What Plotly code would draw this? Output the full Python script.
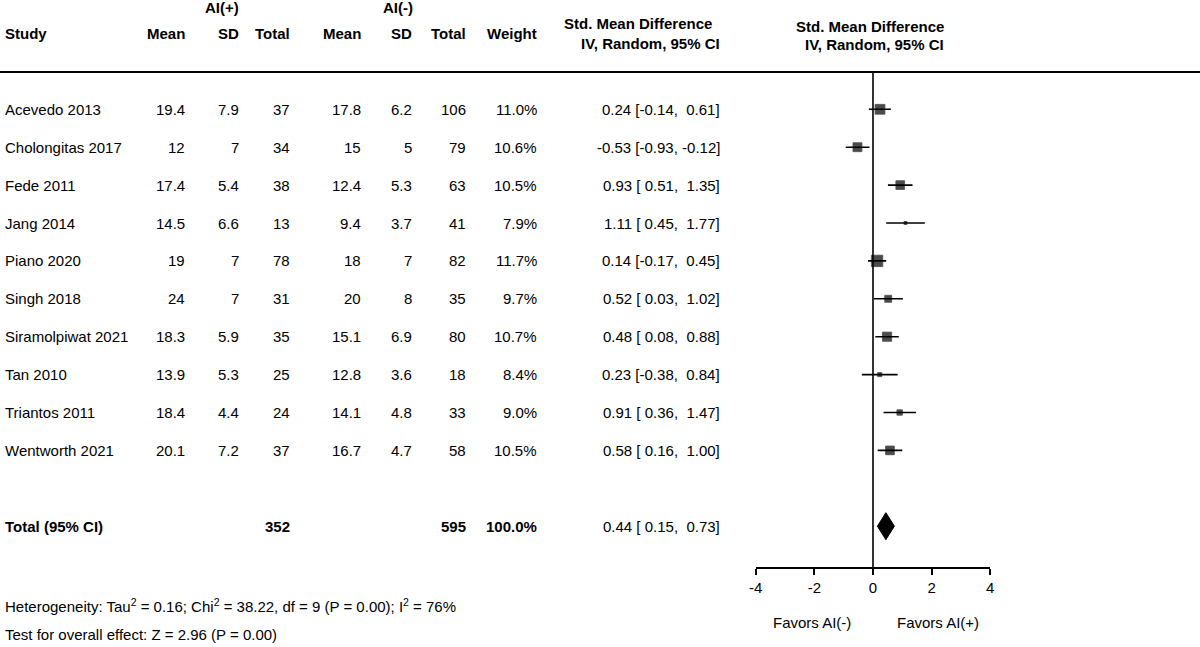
import plotly.graph_objects as go

# ---------------- data ----------------
studies = ["Acevedo 2013", "Cholongitas 2017", "Fede 2011", "Jang 2014", "Piano 2020",
           "Singh 2018", "Siramolpiwat 2021", "Tan 2010", "Triantos 2011", "Wentworth 2021"]
mean_pos = ["19.4", "12", "17.4", "14.5", "19", "24", "18.3", "13.9", "18.4", "20.1"]
sd_pos = ["7.9", "7", "5.4", "6.6", "7", "7", "5.9", "5.3", "4.4", "7.2"]
n_pos = [37, 34, 38, 13, 78, 31, 35, 25, 24, 37]
mean_neg = ["17.8", "15", "12.4", "9.4", "18", "20", "15.1", "12.8", "14.1", "16.7"]
sd_neg = ["6.2", "5", "5.3", "3.7", "7", "8", "6.9", "3.6", "4.8", "4.7"]
n_neg = [106, 79, 63, 41, 82, 35, 80, 18, 33, 58]
weights = [11.0, 10.6, 10.5, 7.9, 11.7, 9.7, 10.7, 8.4, 9.0, 10.5]
smd = [0.24, -0.53, 0.93, 1.11, 0.14, 0.52, 0.48, 0.23, 0.91, 0.58]
ci_lo = [-0.14, -0.93, 0.51, 0.45, -0.17, 0.03, 0.08, -0.38, 0.36, 0.16]
ci_hi = [0.61, -0.12, 1.35, 1.77, 0.45, 1.02, 0.88, 0.84, 1.47, 1.00]
total_pos = 352
total_neg = 595
total_weight = "100.0%"
total_smd = 0.44
total_lo = 0.15
total_hi = 0.73
x_ticks = [-4, -2, 0, 2, 4]
heterogeneity = "Heterogeneity: Tau<sup>2</sup> = 0.16; Chi<sup>2</sup> = 38.22, df = 9 (P = 0.00); I<sup>2</sup> = 76%"
overall_effect = "Test for overall effect: Z = 2.96 (P = 0.00)"

# ---------------- layout constants ----------------
W, H = 1200, 647
ROW0_PX, ROW_STEP = 109.3, 37.9
AXIS_PX = 567
X_LEFT_PX, X_RIGHT_PX = 755.7, 992.3
FONT = "Liberation Sans, Arial, sans-serif"
FS = 15
LEFT_PX = -4
total_row = len(studies) + 1


def px_to_row(py):
    return (py - ROW0_PX) / ROW_STEP


def pyp(py):  # pixel y -> paper y
    return 1 - py / H


def pxp(px):  # pixel x -> paper x
    return px / W


def fmt_ci(e, lo, hi):
    def f(v):
        s = f"{v:.2f}"
        return s if v < 0 else " " + s
    return f"{e:.2f} [{f(lo)}, {f(hi)}]".replace("[ -", "[-")


fig = go.Figure()

rows = list(range(len(studies)))
sizes = [max(3.0, 3 + (w - 7.9) * 2.2) for w in weights]

fig.add_trace(go.Scatter(
    x=smd, y=rows, mode="markers",
    marker=dict(symbol="square", color="black", size=sizes,
                line=dict(width=0.8, color="black")),
    error_x=dict(type="data", symmetric=False,
                 array=[h - e for h, e in zip(ci_hi, smd)],
                 arrayminus=[e - l for e, l in zip(smd, ci_lo)],
                 color="black", thickness=1.6, width=0),
    hoverinfo="skip", showlegend=False, cliponaxis=False,
))

dh = 13.5 / ROW_STEP
fig.add_trace(go.Scatter(
    x=[total_lo, total_smd, total_hi, total_smd, total_lo],
    y=[total_row, total_row - dh, total_row, total_row + dh, total_row],
    mode="lines", fill="toself", fillcolor="black",
    line=dict(color="black", width=1), hoverinfo="skip", showlegend=False,
))

ann = []


def add(text, px, row=None, py=None, anchor="left", bold=False, size=FS):
    t = f"<b>{text}</b>" if bold else text
    d = dict(text=t, x=pxp(px), xref="paper", xanchor=anchor, yanchor="middle",
             showarrow=False, font=dict(family=FONT, size=size, color="black"))
    if row is not None:
        d.update(y=row, yref="y")
    else:
        d.update(y=pyp(py), yref="paper")
    ann.append(d)


# headers
add("AI(+)", 217, py=8, anchor="center", bold=True)
add("AI(-)", 395, py=8, anchor="center", bold=True)
add("Study", LEFT_PX, py=33, bold=True)
add("Mean", 182, py=33, anchor="right", bold=True)
add("SD", 236, py=33, anchor="right", bold=True)
add("Total", 288, py=33, anchor="right", bold=True)
add("Mean", 359, py=33, anchor="right", bold=True)
add("SD", 411, py=33, anchor="right", bold=True)
add("Total", 465, py=33, anchor="right", bold=True)
add("Weight", 537, py=33, anchor="right", bold=True)
add("Std. Mean Difference", 637, py=23, anchor="center", bold=True)
add("IV, Random, 95% CI", 649, py=43, anchor="center", bold=True)
add("Std. Mean Difference", 871, py=26, anchor="center", bold=True)
add("IV, Random, 95% CI", 876, py=45, anchor="center", bold=True)

# study rows
for i, s in enumerate(studies):
    add(s, LEFT_PX, row=i)
    add(mean_pos[i], 182, row=i, anchor="right")
    add(sd_pos[i], 236, row=i, anchor="right")
    add(str(n_pos[i]), 288, row=i, anchor="right")
    add(mean_neg[i], 359, row=i, anchor="right")
    add(sd_neg[i], 411, row=i, anchor="right")
    add(str(n_neg[i]), 465, row=i, anchor="right")
    add(f"{weights[i]:.1f}%", 537, row=i, anchor="right")
    add(fmt_ci(smd[i], ci_lo[i], ci_hi[i]), 722, row=i, anchor="right")

# total row
add("Total (95% CI)", LEFT_PX, row=total_row, bold=True)
add(str(total_pos), 288, row=total_row, anchor="right", bold=True)
add(str(total_neg), 465, row=total_row, anchor="right", bold=True)
add(total_weight, 537, row=total_row, anchor="right", bold=True)
add(fmt_ci(total_smd, total_lo, total_hi), 722, row=total_row, anchor="right")

# footers
add(heterogeneity, LEFT_PX, py=605)
add(overall_effect, LEFT_PX, py=634)
add("Favors AI(-)", 812, py=622, anchor="center")
add("Favors AI(+)", 940, py=622, anchor="center")

shapes = [
    dict(type="line", xref="paper", yref="paper", x0=-0.02, x1=1.02,
         y0=pyp(72), y1=pyp(72), line=dict(color="black", width=2)),
    dict(type="line", xref="x", yref="paper", x0=0, x1=0,
         y0=pyp(72), y1=pyp(AXIS_PX), line=dict(color="black", width=1.6)),
]

fig.update_layout(
    width=W, height=H,
    margin=dict(l=0, r=0, t=0, b=0),
    paper_bgcolor="white", plot_bgcolor="white",
    font=dict(family=FONT, size=FS, color="black"),
    annotations=ann, shapes=shapes, showlegend=False,
    xaxis=dict(domain=[pxp(X_LEFT_PX), pxp(X_RIGHT_PX)], range=[-4, 4],
               tickvals=x_ticks, ticktext=[str(t) for t in x_ticks],
               showline=True, linecolor="black", linewidth=1.6,
               ticks="outside", ticklen=6, tickwidth=1.6, tickcolor="black",
               showgrid=False, zeroline=False, fixedrange=True,
               tickfont=dict(family=FONT, size=FS, color="black")),
    yaxis=dict(domain=[1 - AXIS_PX / H, 1], range=[px_to_row(AXIS_PX), px_to_row(0)],
               visible=False, showgrid=False, zeroline=False, fixedrange=True),
)

fig.write_html("out.html", config={"displayModeBar": False},
               post_script="document.body.style.margin='0';document.body.style.overflow='hidden';")
